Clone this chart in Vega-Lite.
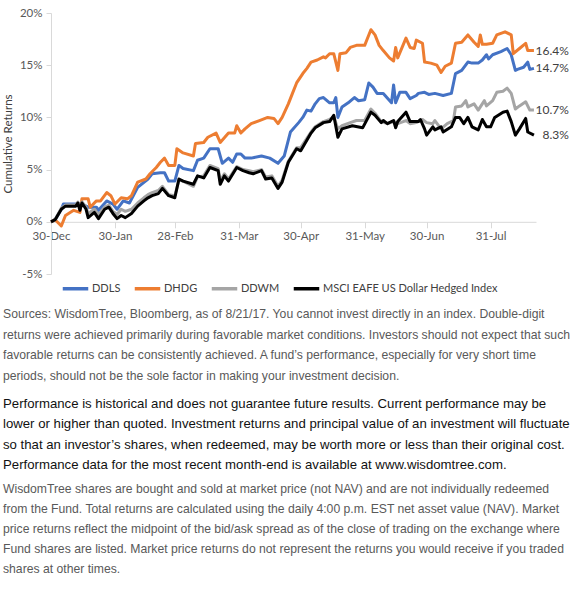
{
  "$schema": "https://vega.github.io/schema/vega-lite/v6.json",
  "padding": {"left": 2, "top": 7, "right": 0, "bottom": 0},
  "autosize": {"type": "pad"},
  "config": {"view": {"stroke": null}, "font": "Lato"},
  "spacing": 7.75,
  "resolve": {"scale": {"color": "independent"}, "legend": {"color": "independent"}},
  "datasets": {
    "returns": [
      {"series":"DDLS","date":"2016/12/30","ret":0},
      {"series":"DDLS","date":"2017/01/01","ret":0.2},
      {"series":"DDLS","date":"2017/01/04","ret":1.2},
      {"series":"DDLS","date":"2017/01/05","ret":1.7},
      {"series":"DDLS","date":"2017/01/12","ret":1.7},
      {"series":"DDLS","date":"2017/01/14","ret":1.7},
      {"series":"DDLS","date":"2017/01/17","ret":1.4},
      {"series":"DDLS","date":"2017/01/21","ret":1.4},
      {"series":"DDLS","date":"2017/01/22","ret":1.1},
      {"series":"DDLS","date":"2017/01/26","ret":2.0},
      {"series":"DDLS","date":"2017/01/29","ret":1.7},
      {"series":"DDLS","date":"2017/01/31","ret":1.2},
      {"series":"DDLS","date":"2017/02/03","ret":2.0},
      {"series":"DDLS","date":"2017/02/06","ret":1.8},
      {"series":"DDLS","date":"2017/02/10","ret":3.3},
      {"series":"DDLS","date":"2017/02/15","ret":4.1},
      {"series":"DDLS","date":"2017/02/17","ret":4.6},
      {"series":"DDLS","date":"2017/02/21","ret":4.7},
      {"series":"DDLS","date":"2017/02/23","ret":4.7},
      {"series":"DDLS","date":"2017/02/25","ret":3.9},
      {"series":"DDLS","date":"2017/02/28","ret":3.9},
      {"series":"DDLS","date":"2017/03/02","ret":5.4},
      {"series":"DDLS","date":"2017/03/04","ret":5.1},
      {"series":"DDLS","date":"2017/03/09","ret":4.9},
      {"series":"DDLS","date":"2017/03/11","ret":5.9},
      {"series":"DDLS","date":"2017/03/14","ret":6.1},
      {"series":"DDLS","date":"2017/03/17","ret":7.0},
      {"series":"DDLS","date":"2017/03/21","ret":7.0},
      {"series":"DDLS","date":"2017/03/23","ret":5.6},
      {"series":"DDLS","date":"2017/03/26","ret":6.1},
      {"series":"DDLS","date":"2017/03/28","ret":5.7},
      {"series":"DDLS","date":"2017/03/30","ret":6.5},
      {"series":"DDLS","date":"2017/04/01","ret":6.5},
      {"series":"DDLS","date":"2017/04/03","ret":6.1},
      {"series":"DDLS","date":"2017/04/06","ret":6.1},
      {"series":"DDLS","date":"2017/04/11","ret":6.3},
      {"series":"DDLS","date":"2017/04/15","ret":6.1},
      {"series":"DDLS","date":"2017/04/19","ret":5.6},
      {"series":"DDLS","date":"2017/04/22","ret":6.3},
      {"series":"DDLS","date":"2017/04/25","ret":8.6},
      {"series":"DDLS","date":"2017/04/29","ret":9.5},
      {"series":"DDLS","date":"2017/05/01","ret":10.0},
      {"series":"DDLS","date":"2017/05/03","ret":10.7},
      {"series":"DDLS","date":"2017/05/05","ret":10.6},
      {"series":"DDLS","date":"2017/05/07","ret":11.3},
      {"series":"DDLS","date":"2017/05/09","ret":11.8},
      {"series":"DDLS","date":"2017/05/11","ret":11.9},
      {"series":"DDLS","date":"2017/05/14","ret":11.4},
      {"series":"DDLS","date":"2017/05/16","ret":11.4},
      {"series":"DDLS","date":"2017/05/17","ret":11.9},
      {"series":"DDLS","date":"2017/05/18","ret":10.0},
      {"series":"DDLS","date":"2017/05/20","ret":11.0},
      {"series":"DDLS","date":"2017/05/23","ret":11.4},
      {"series":"DDLS","date":"2017/05/26","ret":11.9},
      {"series":"DDLS","date":"2017/05/28","ret":11.6},
      {"series":"DDLS","date":"2017/05/31","ret":11.7},
      {"series":"DDLS","date":"2017/06/02","ret":13.3},
      {"series":"DDLS","date":"2017/06/04","ret":12.9},
      {"series":"DDLS","date":"2017/06/06","ret":12.3},
      {"series":"DDLS","date":"2017/06/09","ret":12.3},
      {"series":"DDLS","date":"2017/06/13","ret":11.4},
      {"series":"DDLS","date":"2017/06/14","ret":13.1},
      {"series":"DDLS","date":"2017/06/15","ret":11.4},
      {"series":"DDLS","date":"2017/06/17","ret":12.4},
      {"series":"DDLS","date":"2017/06/20","ret":12.4},
      {"series":"DDLS","date":"2017/06/22","ret":11.8},
      {"series":"DDLS","date":"2017/06/25","ret":12.1},
      {"series":"DDLS","date":"2017/06/26","ret":12.3},
      {"series":"DDLS","date":"2017/06/29","ret":12.4},
      {"series":"DDLS","date":"2017/07/01","ret":12.2},
      {"series":"DDLS","date":"2017/07/04","ret":12.3},
      {"series":"DDLS","date":"2017/07/08","ret":12.1},
      {"series":"DDLS","date":"2017/07/12","ret":12.3},
      {"series":"DDLS","date":"2017/07/14","ret":14.2},
      {"series":"DDLS","date":"2017/07/17","ret":14.5},
      {"series":"DDLS","date":"2017/07/20","ret":15.3},
      {"series":"DDLS","date":"2017/07/22","ret":15.2},
      {"series":"DDLS","date":"2017/07/25","ret":15.2},
      {"series":"DDLS","date":"2017/07/27","ret":15.5},
      {"series":"DDLS","date":"2017/07/29","ret":16.0},
      {"series":"DDLS","date":"2017/07/30","ret":15.6},
      {"series":"DDLS","date":"2017/08/01","ret":16.0},
      {"series":"DDLS","date":"2017/08/05","ret":16.3},
      {"series":"DDLS","date":"2017/08/08","ret":16.6},
      {"series":"DDLS","date":"2017/08/10","ret":16.0},
      {"series":"DDLS","date":"2017/08/12","ret":14.5},
      {"series":"DDLS","date":"2017/08/13","ret":14.6},
      {"series":"DDLS","date":"2017/08/16","ret":14.8},
      {"series":"DDLS","date":"2017/08/18","ret":15.3},
      {"series":"DDLS","date":"2017/08/19","ret":14.6},
      {"series":"DDLS","date":"2017/08/21","ret":14.7,"lab":"14.7%"},

      {"series":"DHDG","date":"2016/12/30","ret":0},
      {"series":"DHDG","date":"2017/01/01","ret":0.2},
      {"series":"DHDG","date":"2017/01/04","ret":-0.4},
      {"series":"DHDG","date":"2017/01/06","ret":0.6},
      {"series":"DHDG","date":"2017/01/10","ret":1.1},
      {"series":"DHDG","date":"2017/01/13","ret":0.9},
      {"series":"DHDG","date":"2017/01/14","ret":2.2},
      {"series":"DHDG","date":"2017/01/17","ret":2.2},
      {"series":"DHDG","date":"2017/01/18","ret":1.4},
      {"series":"DHDG","date":"2017/01/21","ret":2.0},
      {"series":"DHDG","date":"2017/01/23","ret":2.0},
      {"series":"DHDG","date":"2017/01/26","ret":2.8},
      {"series":"DHDG","date":"2017/01/28","ret":2.5},
      {"series":"DHDG","date":"2017/01/30","ret":1.7},
      {"series":"DHDG","date":"2017/02/02","ret":2.3},
      {"series":"DHDG","date":"2017/02/05","ret":2.2},
      {"series":"DHDG","date":"2017/02/07","ret":2.5},
      {"series":"DHDG","date":"2017/02/10","ret":3.8},
      {"series":"DHDG","date":"2017/02/14","ret":4.1},
      {"series":"DHDG","date":"2017/02/16","ret":4.6},
      {"series":"DHDG","date":"2017/02/19","ret":5.2},
      {"series":"DHDG","date":"2017/02/21","ret":5.7},
      {"series":"DHDG","date":"2017/02/23","ret":6.1},
      {"series":"DHDG","date":"2017/02/25","ret":5.4},
      {"series":"DHDG","date":"2017/02/28","ret":5.4},
      {"series":"DHDG","date":"2017/03/01","ret":7.0},
      {"series":"DHDG","date":"2017/03/04","ret":6.6},
      {"series":"DHDG","date":"2017/03/09","ret":6.3},
      {"series":"DHDG","date":"2017/03/10","ret":7.5},
      {"series":"DHDG","date":"2017/03/14","ret":7.6},
      {"series":"DHDG","date":"2017/03/16","ret":8.1},
      {"series":"DHDG","date":"2017/03/20","ret":8.5},
      {"series":"DHDG","date":"2017/03/22","ret":7.6},
      {"series":"DHDG","date":"2017/03/26","ret":8.5},
      {"series":"DHDG","date":"2017/03/29","ret":8.5},
      {"series":"DHDG","date":"2017/03/30","ret":9.2},
      {"series":"DHDG","date":"2017/04/01","ret":8.5},
      {"series":"DHDG","date":"2017/04/03","ret":8.9},
      {"series":"DHDG","date":"2017/04/06","ret":9.4},
      {"series":"DHDG","date":"2017/04/10","ret":9.7},
      {"series":"DHDG","date":"2017/04/14","ret":10.0},
      {"series":"DHDG","date":"2017/04/17","ret":9.9},
      {"series":"DHDG","date":"2017/04/19","ret":9.4},
      {"series":"DHDG","date":"2017/04/21","ret":10.0},
      {"series":"DHDG","date":"2017/04/24","ret":11.3},
      {"series":"DHDG","date":"2017/04/26","ret":12.3},
      {"series":"DHDG","date":"2017/04/28","ret":13.3},
      {"series":"DHDG","date":"2017/05/01","ret":14.2},
      {"series":"DHDG","date":"2017/05/03","ret":14.7},
      {"series":"DHDG","date":"2017/05/05","ret":15.3},
      {"series":"DHDG","date":"2017/05/08","ret":15.5},
      {"series":"DHDG","date":"2017/05/11","ret":15.8},
      {"series":"DHDG","date":"2017/05/12","ret":15.7},
      {"series":"DHDG","date":"2017/05/14","ret":16.1},
      {"series":"DHDG","date":"2017/05/16","ret":16.1},
      {"series":"DHDG","date":"2017/05/18","ret":14.5},
      {"series":"DHDG","date":"2017/05/19","ret":16.1},
      {"series":"DHDG","date":"2017/05/22","ret":16.2},
      {"series":"DHDG","date":"2017/05/24","ret":16.7},
      {"series":"DHDG","date":"2017/05/27","ret":16.9},
      {"series":"DHDG","date":"2017/05/31","ret":16.9},
      {"series":"DHDG","date":"2017/06/03","ret":18.4},
      {"series":"DHDG","date":"2017/06/05","ret":17.9},
      {"series":"DHDG","date":"2017/06/07","ret":16.9},
      {"series":"DHDG","date":"2017/06/09","ret":16.4},
      {"series":"DHDG","date":"2017/06/12","ret":15.7},
      {"series":"DHDG","date":"2017/06/14","ret":15.4},
      {"series":"DHDG","date":"2017/06/15","ret":16.7},
      {"series":"DHDG","date":"2017/06/16","ret":15.7},
      {"series":"DHDG","date":"2017/06/20","ret":17.6},
      {"series":"DHDG","date":"2017/06/22","ret":16.7},
      {"series":"DHDG","date":"2017/06/24","ret":16.6},
      {"series":"DHDG","date":"2017/06/25","ret":17.4},
      {"series":"DHDG","date":"2017/06/28","ret":17.1},
      {"series":"DHDG","date":"2017/06/29","ret":15.3},
      {"series":"DHDG","date":"2017/07/02","ret":15.2},
      {"series":"DHDG","date":"2017/07/05","ret":15.0},
      {"series":"DHDG","date":"2017/07/07","ret":14.3},
      {"series":"DHDG","date":"2017/07/09","ret":14.9},
      {"series":"DHDG","date":"2017/07/12","ret":15.2},
      {"series":"DHDG","date":"2017/07/14","ret":17.1},
      {"series":"DHDG","date":"2017/07/17","ret":17.2},
      {"series":"DHDG","date":"2017/07/20","ret":17.9},
      {"series":"DHDG","date":"2017/07/23","ret":17.2},
      {"series":"DHDG","date":"2017/07/25","ret":16.8},
      {"series":"DHDG","date":"2017/07/26","ret":17.9},
      {"series":"DHDG","date":"2017/07/27","ret":17.0},
      {"series":"DHDG","date":"2017/07/29","ret":17.0},
      {"series":"DHDG","date":"2017/08/01","ret":17.1},
      {"series":"DHDG","date":"2017/08/03","ret":17.9},
      {"series":"DHDG","date":"2017/08/07","ret":18.2},
      {"series":"DHDG","date":"2017/08/10","ret":17.9},
      {"series":"DHDG","date":"2017/08/11","ret":16.1},
      {"series":"DHDG","date":"2017/08/14","ret":16.6},
      {"series":"DHDG","date":"2017/08/17","ret":17.1},
      {"series":"DHDG","date":"2017/08/18","ret":16.4},
      {"series":"DHDG","date":"2017/08/21","ret":16.4,"lab":"16.4%"},

      {"series":"DDWM","date":"2016/12/30","ret":0},
      {"series":"DDWM","date":"2017/01/01","ret":0.2},
      {"series":"DDWM","date":"2017/01/04","ret":1.3},
      {"series":"DDWM","date":"2017/01/06","ret":1.6},
      {"series":"DDWM","date":"2017/01/11","ret":1.6},
      {"series":"DDWM","date":"2017/01/12","ret":1.9},
      {"series":"DDWM","date":"2017/01/13","ret":1.3},
      {"series":"DDWM","date":"2017/01/14","ret":1.9},
      {"series":"DDWM","date":"2017/01/16","ret":1.4},
      {"series":"DDWM","date":"2017/01/17","ret":0.8},
      {"series":"DDWM","date":"2017/01/20","ret":1.2},
      {"series":"DDWM","date":"2017/01/22","ret":0.7},
      {"series":"DDWM","date":"2017/01/25","ret":1.4},
      {"series":"DDWM","date":"2017/01/27","ret":1.6},
      {"series":"DDWM","date":"2017/01/29","ret":1.0},
      {"series":"DDWM","date":"2017/01/31","ret":0.7},
      {"series":"DDWM","date":"2017/02/02","ret":1.2},
      {"series":"DDWM","date":"2017/02/04","ret":1.0},
      {"series":"DDWM","date":"2017/02/07","ret":1.2},
      {"series":"DDWM","date":"2017/02/10","ret":1.8},
      {"series":"DDWM","date":"2017/02/13","ret":2.3},
      {"series":"DDWM","date":"2017/02/15","ret":2.6},
      {"series":"DDWM","date":"2017/02/17","ret":2.8},
      {"series":"DDWM","date":"2017/02/20","ret":3.0},
      {"series":"DDWM","date":"2017/02/22","ret":3.4},
      {"series":"DDWM","date":"2017/02/25","ret":2.6},
      {"series":"DDWM","date":"2017/02/28","ret":2.5},
      {"series":"DDWM","date":"2017/03/02","ret":4.0},
      {"series":"DDWM","date":"2017/03/04","ret":3.9},
      {"series":"DDWM","date":"2017/03/09","ret":3.4},
      {"series":"DDWM","date":"2017/03/11","ret":4.3},
      {"series":"DDWM","date":"2017/03/14","ret":4.4},
      {"series":"DDWM","date":"2017/03/17","ret":5.4},
      {"series":"DDWM","date":"2017/03/21","ret":5.1},
      {"series":"DDWM","date":"2017/03/22","ret":3.9},
      {"series":"DDWM","date":"2017/03/24","ret":4.6},
      {"series":"DDWM","date":"2017/03/26","ret":4.1},
      {"series":"DDWM","date":"2017/03/30","ret":5.3},
      {"series":"DDWM","date":"2017/04/02","ret":5.0},
      {"series":"DDWM","date":"2017/04/05","ret":4.9},
      {"series":"DDWM","date":"2017/04/07","ret":4.8},
      {"series":"DDWM","date":"2017/04/11","ret":5.0},
      {"series":"DDWM","date":"2017/04/13","ret":4.3},
      {"series":"DDWM","date":"2017/04/16","ret":4.4},
      {"series":"DDWM","date":"2017/04/19","ret":3.4},
      {"series":"DDWM","date":"2017/04/21","ret":4.0},
      {"series":"DDWM","date":"2017/04/24","ret":5.8},
      {"series":"DDWM","date":"2017/04/28","ret":7.1},
      {"series":"DDWM","date":"2017/04/30","ret":7.1},
      {"series":"DDWM","date":"2017/05/05","ret":8.6},
      {"series":"DDWM","date":"2017/05/07","ret":9.1},
      {"series":"DDWM","date":"2017/05/11","ret":9.6},
      {"series":"DDWM","date":"2017/05/14","ret":9.8},
      {"series":"DDWM","date":"2017/05/16","ret":10.1},
      {"series":"DDWM","date":"2017/05/18","ret":8.9},
      {"series":"DDWM","date":"2017/05/20","ret":9.2},
      {"series":"DDWM","date":"2017/05/24","ret":9.5},
      {"series":"DDWM","date":"2017/05/27","ret":9.7},
      {"series":"DDWM","date":"2017/05/31","ret":9.7},
      {"series":"DDWM","date":"2017/06/03","ret":10.8},
      {"series":"DDWM","date":"2017/06/05","ret":10.4},
      {"series":"DDWM","date":"2017/06/08","ret":9.6},
      {"series":"DDWM","date":"2017/06/11","ret":9.4},
      {"series":"DDWM","date":"2017/06/14","ret":9.6},
      {"series":"DDWM","date":"2017/06/16","ret":9.4},
      {"series":"DDWM","date":"2017/06/20","ret":9.7},
      {"series":"DDWM","date":"2017/06/22","ret":9.4},
      {"series":"DDWM","date":"2017/06/25","ret":9.5},
      {"series":"DDWM","date":"2017/06/28","ret":9.8},
      {"series":"DDWM","date":"2017/06/30","ret":9.5},
      {"series":"DDWM","date":"2017/07/03","ret":9.4},
      {"series":"DDWM","date":"2017/07/04","ret":9.7},
      {"series":"DDWM","date":"2017/07/07","ret":8.9},
      {"series":"DDWM","date":"2017/07/10","ret":9.4},
      {"series":"DDWM","date":"2017/07/13","ret":9.7},
      {"series":"DDWM","date":"2017/07/14","ret":11.0},
      {"series":"DDWM","date":"2017/07/17","ret":11.1},
      {"series":"DDWM","date":"2017/07/19","ret":11.6},
      {"series":"DDWM","date":"2017/07/20","ret":11.0},
      {"series":"DDWM","date":"2017/07/23","ret":11.3},
      {"series":"DDWM","date":"2017/07/25","ret":10.7},
      {"series":"DDWM","date":"2017/07/28","ret":11.6},
      {"series":"DDWM","date":"2017/07/29","ret":11.1},
      {"series":"DDWM","date":"2017/08/01","ret":11.6},
      {"series":"DDWM","date":"2017/08/03","ret":12.4},
      {"series":"DDWM","date":"2017/08/06","ret":12.5},
      {"series":"DDWM","date":"2017/08/08","ret":12.8},
      {"series":"DDWM","date":"2017/08/10","ret":12.3},
      {"series":"DDWM","date":"2017/08/12","ret":10.8},
      {"series":"DDWM","date":"2017/08/14","ret":11.1},
      {"series":"DDWM","date":"2017/08/17","ret":11.5},
      {"series":"DDWM","date":"2017/08/19","ret":10.7},
      {"series":"DDWM","date":"2017/08/21","ret":10.7,"lab":"10.7%"},

      {"series":"MSCI EAFE US Dollar Hedged Index","date":"2016/12/30","ret":0},
      {"series":"MSCI EAFE US Dollar Hedged Index","date":"2017/01/01","ret":0.2},
      {"series":"MSCI EAFE US Dollar Hedged Index","date":"2017/01/04","ret":1.2},
      {"series":"MSCI EAFE US Dollar Hedged Index","date":"2017/01/06","ret":1.5},
      {"series":"MSCI EAFE US Dollar Hedged Index","date":"2017/01/11","ret":1.5},
      {"series":"MSCI EAFE US Dollar Hedged Index","date":"2017/01/12","ret":1.8},
      {"series":"MSCI EAFE US Dollar Hedged Index","date":"2017/01/13","ret":1.1},
      {"series":"MSCI EAFE US Dollar Hedged Index","date":"2017/01/14","ret":1.8},
      {"series":"MSCI EAFE US Dollar Hedged Index","date":"2017/01/16","ret":1.2},
      {"series":"MSCI EAFE US Dollar Hedged Index","date":"2017/01/17","ret":0.4},
      {"series":"MSCI EAFE US Dollar Hedged Index","date":"2017/01/20","ret":0.9},
      {"series":"MSCI EAFE US Dollar Hedged Index","date":"2017/01/22","ret":0.3},
      {"series":"MSCI EAFE US Dollar Hedged Index","date":"2017/01/25","ret":1.2},
      {"series":"MSCI EAFE US Dollar Hedged Index","date":"2017/01/27","ret":1.4},
      {"series":"MSCI EAFE US Dollar Hedged Index","date":"2017/01/29","ret":0.8},
      {"series":"MSCI EAFE US Dollar Hedged Index","date":"2017/01/31","ret":0.3},
      {"series":"MSCI EAFE US Dollar Hedged Index","date":"2017/02/02","ret":0.6},
      {"series":"MSCI EAFE US Dollar Hedged Index","date":"2017/02/04","ret":0.4},
      {"series":"MSCI EAFE US Dollar Hedged Index","date":"2017/02/07","ret":0.8},
      {"series":"MSCI EAFE US Dollar Hedged Index","date":"2017/02/10","ret":1.5},
      {"series":"MSCI EAFE US Dollar Hedged Index","date":"2017/02/13","ret":2.0},
      {"series":"MSCI EAFE US Dollar Hedged Index","date":"2017/02/15","ret":2.3},
      {"series":"MSCI EAFE US Dollar Hedged Index","date":"2017/02/17","ret":2.5},
      {"series":"MSCI EAFE US Dollar Hedged Index","date":"2017/02/20","ret":2.7},
      {"series":"MSCI EAFE US Dollar Hedged Index","date":"2017/02/22","ret":3.2},
      {"series":"MSCI EAFE US Dollar Hedged Index","date":"2017/02/25","ret":2.5},
      {"series":"MSCI EAFE US Dollar Hedged Index","date":"2017/02/28","ret":2.3},
      {"series":"MSCI EAFE US Dollar Hedged Index","date":"2017/03/02","ret":4.1},
      {"series":"MSCI EAFE US Dollar Hedged Index","date":"2017/03/04","ret":3.9},
      {"series":"MSCI EAFE US Dollar Hedged Index","date":"2017/03/09","ret":3.6},
      {"series":"MSCI EAFE US Dollar Hedged Index","date":"2017/03/11","ret":4.4},
      {"series":"MSCI EAFE US Dollar Hedged Index","date":"2017/03/14","ret":4.2},
      {"series":"MSCI EAFE US Dollar Hedged Index","date":"2017/03/17","ret":5.2},
      {"series":"MSCI EAFE US Dollar Hedged Index","date":"2017/03/21","ret":4.9},
      {"series":"MSCI EAFE US Dollar Hedged Index","date":"2017/03/22","ret":3.6},
      {"series":"MSCI EAFE US Dollar Hedged Index","date":"2017/03/24","ret":4.4},
      {"series":"MSCI EAFE US Dollar Hedged Index","date":"2017/03/26","ret":3.9},
      {"series":"MSCI EAFE US Dollar Hedged Index","date":"2017/03/30","ret":5.2},
      {"series":"MSCI EAFE US Dollar Hedged Index","date":"2017/04/02","ret":4.9},
      {"series":"MSCI EAFE US Dollar Hedged Index","date":"2017/04/05","ret":4.7},
      {"series":"MSCI EAFE US Dollar Hedged Index","date":"2017/04/07","ret":4.6},
      {"series":"MSCI EAFE US Dollar Hedged Index","date":"2017/04/11","ret":4.9},
      {"series":"MSCI EAFE US Dollar Hedged Index","date":"2017/04/13","ret":4.1},
      {"series":"MSCI EAFE US Dollar Hedged Index","date":"2017/04/16","ret":4.2},
      {"series":"MSCI EAFE US Dollar Hedged Index","date":"2017/04/19","ret":3.2},
      {"series":"MSCI EAFE US Dollar Hedged Index","date":"2017/04/21","ret":3.8},
      {"series":"MSCI EAFE US Dollar Hedged Index","date":"2017/04/24","ret":5.7},
      {"series":"MSCI EAFE US Dollar Hedged Index","date":"2017/04/28","ret":7.0},
      {"series":"MSCI EAFE US Dollar Hedged Index","date":"2017/04/30","ret":6.8},
      {"series":"MSCI EAFE US Dollar Hedged Index","date":"2017/05/05","ret":8.5},
      {"series":"MSCI EAFE US Dollar Hedged Index","date":"2017/05/07","ret":9.0},
      {"series":"MSCI EAFE US Dollar Hedged Index","date":"2017/05/11","ret":9.5},
      {"series":"MSCI EAFE US Dollar Hedged Index","date":"2017/05/14","ret":9.6},
      {"series":"MSCI EAFE US Dollar Hedged Index","date":"2017/05/16","ret":10.2},
      {"series":"MSCI EAFE US Dollar Hedged Index","date":"2017/05/18","ret":8.1},
      {"series":"MSCI EAFE US Dollar Hedged Index","date":"2017/05/20","ret":8.9},
      {"series":"MSCI EAFE US Dollar Hedged Index","date":"2017/05/25","ret":9.2},
      {"series":"MSCI EAFE US Dollar Hedged Index","date":"2017/05/30","ret":9.0},
      {"series":"MSCI EAFE US Dollar Hedged Index","date":"2017/06/03","ret":10.5},
      {"series":"MSCI EAFE US Dollar Hedged Index","date":"2017/06/05","ret":10.2},
      {"series":"MSCI EAFE US Dollar Hedged Index","date":"2017/06/08","ret":9.5},
      {"series":"MSCI EAFE US Dollar Hedged Index","date":"2017/06/09","ret":9.7},
      {"series":"MSCI EAFE US Dollar Hedged Index","date":"2017/06/11","ret":9.4},
      {"series":"MSCI EAFE US Dollar Hedged Index","date":"2017/06/14","ret":9.7},
      {"series":"MSCI EAFE US Dollar Hedged Index","date":"2017/06/15","ret":9.0},
      {"series":"MSCI EAFE US Dollar Hedged Index","date":"2017/06/16","ret":9.6},
      {"series":"MSCI EAFE US Dollar Hedged Index","date":"2017/06/20","ret":10.5},
      {"series":"MSCI EAFE US Dollar Hedged Index","date":"2017/06/22","ret":9.6},
      {"series":"MSCI EAFE US Dollar Hedged Index","date":"2017/06/26","ret":9.6},
      {"series":"MSCI EAFE US Dollar Hedged Index","date":"2017/06/27","ret":9.8},
      {"series":"MSCI EAFE US Dollar Hedged Index","date":"2017/06/29","ret":8.9},
      {"series":"MSCI EAFE US Dollar Hedged Index","date":"2017/06/30","ret":8.3},
      {"series":"MSCI EAFE US Dollar Hedged Index","date":"2017/07/03","ret":9.1},
      {"series":"MSCI EAFE US Dollar Hedged Index","date":"2017/07/04","ret":8.8},
      {"series":"MSCI EAFE US Dollar Hedged Index","date":"2017/07/07","ret":9.1},
      {"series":"MSCI EAFE US Dollar Hedged Index","date":"2017/07/08","ret":8.6},
      {"series":"MSCI EAFE US Dollar Hedged Index","date":"2017/07/12","ret":9.1},
      {"series":"MSCI EAFE US Dollar Hedged Index","date":"2017/07/14","ret":10.0},
      {"series":"MSCI EAFE US Dollar Hedged Index","date":"2017/07/16","ret":10.0},
      {"series":"MSCI EAFE US Dollar Hedged Index","date":"2017/07/18","ret":9.4},
      {"series":"MSCI EAFE US Dollar Hedged Index","date":"2017/07/20","ret":10.0},
      {"series":"MSCI EAFE US Dollar Hedged Index","date":"2017/07/22","ret":9.1},
      {"series":"MSCI EAFE US Dollar Hedged Index","date":"2017/07/25","ret":8.8},
      {"series":"MSCI EAFE US Dollar Hedged Index","date":"2017/07/27","ret":9.8},
      {"series":"MSCI EAFE US Dollar Hedged Index","date":"2017/07/29","ret":9.1},
      {"series":"MSCI EAFE US Dollar Hedged Index","date":"2017/07/31","ret":9.1},
      {"series":"MSCI EAFE US Dollar Hedged Index","date":"2017/08/02","ret":10.0},
      {"series":"MSCI EAFE US Dollar Hedged Index","date":"2017/08/06","ret":10.5},
      {"series":"MSCI EAFE US Dollar Hedged Index","date":"2017/08/08","ret":10.6},
      {"series":"MSCI EAFE US Dollar Hedged Index","date":"2017/08/10","ret":9.6},
      {"series":"MSCI EAFE US Dollar Hedged Index","date":"2017/08/12","ret":8.3},
      {"series":"MSCI EAFE US Dollar Hedged Index","date":"2017/08/14","ret":8.9},
      {"series":"MSCI EAFE US Dollar Hedged Index","date":"2017/08/17","ret":9.9},
      {"series":"MSCI EAFE US Dollar Hedged Index","date":"2017/08/18","ret":8.6},
      {"series":"MSCI EAFE US Dollar Hedged Index","date":"2017/08/21","ret":8.3,"lab":"8.3%"}
    ],
    "p1": [
      {"line": 1, "text": "Sources: WisdomTree, Bloomberg, as of 8/21/17. You cannot invest directly in an index. Double-digit"},
      {"line": 2, "text": "returns were achieved primarily during favorable market conditions. Investors should not expect that such"},
      {"line": 3, "text": "favorable returns can be consistently achieved. A fund’s performance, especially for very short time"},
      {"line": 4, "text": "periods, should not be the sole factor in making your investment decision."}
    ],
    "p2": [
      {"line": 1, "text": "Performance is historical and does not guarantee future results. Current performance may be"},
      {"line": 2, "text": "lower or higher than quoted. Investment returns and principal value of an investment will fluctuate"},
      {"line": 3, "text": "so that an investor’s shares, when redeemed, may be worth more or less than their original cost."},
      {"line": 4, "text": "Performance data for the most recent month-end is available at www.wisdomtree.com."}
    ],
    "p3": [
      {"line": 1, "text": "WisdomTree shares are bought and sold at market price (not NAV) and are not individually redeemed"},
      {"line": 2, "text": "from the Fund. Total returns are calculated using the daily 4:00 p.m. EST net asset value (NAV). Market"},
      {"line": 3, "text": "price returns reflect the midpoint of the bid/ask spread as of the close of trading on the exchange where"},
      {"line": 4, "text": "Fund shares are listed. Market price returns do not represent the returns you would receive if you traded"},
      {"line": 5, "text": "shares at other times."}
    ]
  },
  "vconcat": [
    {
      "width": 485,
      "height": 261,
      "data": {"name": "returns"},
      "encoding": {
        "x": {
          "field": "date", "type": "temporal",
          "scale": {"domain": [{"year": 2016, "month": 12, "date": 30}, {"year": 2017, "month": 8, "date": 22}]},
          "axis": {
            "values": [
              {"year": 2016, "month": 12, "date": 30},
              {"year": 2017, "month": 1, "date": 30},
              {"year": 2017, "month": 2, "date": 28},
              {"year": 2017, "month": 3, "date": 31},
              {"year": 2017, "month": 4, "date": 30},
              {"year": 2017, "month": 5, "date": 31},
              {"year": 2017, "month": 6, "date": 30},
              {"year": 2017, "month": 7, "date": 31}
            ],
            "format": "%d-%b", "title": null, "offset": -52.2, "grid": false,
            "domainColor": "#D9D9D9", "tickColor": "#D9D9D9", "tickSize": 6,
            "labelColor": "#595959", "labelFontSize": 11.5, "labelPadding": 3,
            "labelFlush": false, "labelOverlap": false, "labelFont": "Lato"
          }
        },
        "y": {
          "field": "ret", "type": "quantitative",
          "scale": {"domain": [-5, 20], "nice": false, "zero": false},
          "axis": {
            "values": [-5, 0, 5, 10, 15, 20],
            "labelExpr": "datum.value + '%'",
            "title": "Cumulative Returns", "grid": false,
            "domainColor": "#D9D9D9", "tickColor": "#D9D9D9", "tickSize": 5,
            "labelColor": "#595959", "labelFontSize": 11.5, "labelPadding": 4, "labelFont": "Lato",
            "titleFont": "Lato", "titleFontSize": 11.5, "titleFontWeight": "normal", "titleColor": "#404040", "titlePadding": 6
          }
        }
      },
      "layer": [
        {
          "mark": {"type": "line", "strokeWidth": 3, "strokeJoin": "round"},
          "encoding": {
            "color": {
              "field": "series", "type": "nominal",
              "scale": {
                "domain": ["DDLS", "DHDG", "DDWM", "MSCI EAFE US Dollar Hedged Index"],
                "range": ["#4472C4", "#ED7D31", "#A5A5A5", "#000000"]
              },
              "legend": {
                "orient": "bottom", "offset": 0, "direction": "horizontal", "columns": 4,
                "title": null, "symbolType": "stroke", "symbolSize": 650, "symbolStrokeWidth": 3.5,
                "symbolOffset": 10,
                "labelFontSize": 11, "labelColor": "#404040", "labelFont": "Lato", "labelLimit": 400,
                "columnPadding": 2, "labelOffset": 2
              }
            }
          }
        },
        {
          "transform": [{"filter": "datum.lab != null"}],
          "mark": {"type": "text", "align": "right", "baseline": "middle", "dx": 35, "fontSize": 12, "color": "#404040", "font": "Lato"},
          "encoding": {"text": {"field": "lab"}}
        }
      ]
    },
    {
      "width": 520,
      "height": {"step": 20.5},
      "data": {"name": "p1"},
      "mark": {"type": "text", "align": "left", "baseline": "middle", "font": "Liberation Sans", "fontSize": 12.2, "color": "#595959"},
      "encoding": {
        "y": {"field": "line", "type": "ordinal", "axis": null},
        "x": {"value": -48},
        "text": {"field": "text"}
      }
    },
    {
      "width": 520,
      "height": {"step": 20.5},
      "data": {"name": "p2"},
      "mark": {"type": "text", "align": "left", "baseline": "middle", "font": "Liberation Sans", "fontSize": 13.2, "color": "#111111"},
      "encoding": {
        "y": {"field": "line", "type": "ordinal", "axis": null},
        "x": {"value": -48},
        "text": {"field": "text"}
      }
    },
    {
      "width": 520,
      "height": {"step": 20},
      "data": {"name": "p3"},
      "mark": {"type": "text", "align": "left", "baseline": "middle", "font": "Liberation Sans", "fontSize": 12.2, "color": "#595959"},
      "encoding": {
        "y": {"field": "line", "type": "ordinal", "scale": {"padding": 0.2}, "axis": null},
        "x": {"value": -48},
        "text": {"field": "text"}
      }
    }
  ]
}
